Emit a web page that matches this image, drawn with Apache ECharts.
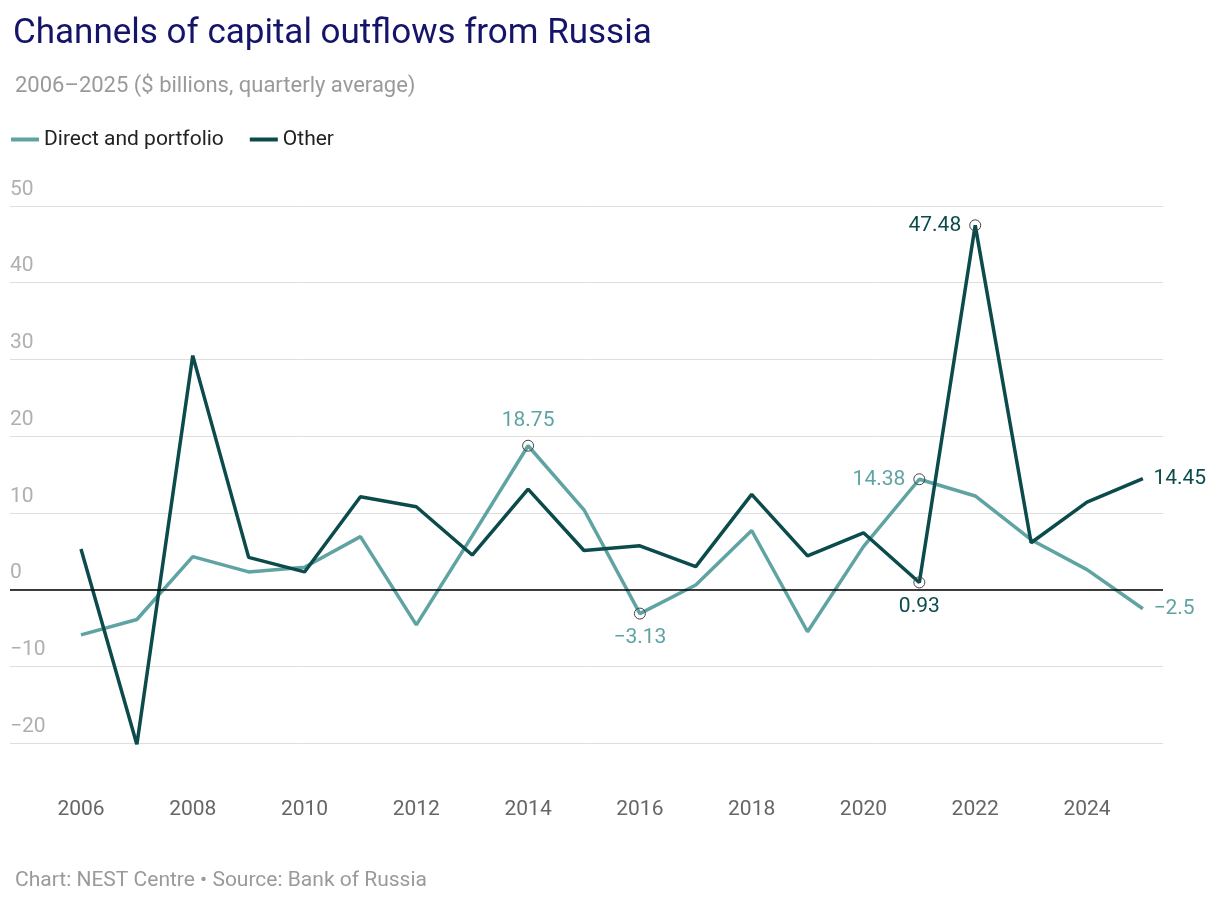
<!DOCTYPE html>
<html>
<head>
<meta charset="utf-8">
<script src="https://cdn.jsdelivr.net/npm/echarts@6/dist/echarts.min.js"></script>
<style>
  html, body { margin: 0; padding: 0; background: #fff; }
  #main { width: 1220px; height: 904px; }
</style>
</head>
<body>
<div id="main"></div>
<script>
const years = [2006, 2007, 2008, 2009, 2010, 2011, 2012, 2013, 2014, 2015, 2016, 2017, 2018, 2019, 2020, 2021, 2022, 2023, 2024, 2025];
const direct = [-5.9, -3.9, 4.3, 2.3, 2.9, 6.9, -4.6, 7.0, 18.75, 10.4, -3.13, 0.6, 7.7, -5.5, 5.6, 14.38, 12.2, 6.5, 2.6, -2.5];
const other = [5.3, -20.2, 30.5, 4.2, 2.3, 12.1, 10.8, 4.5, 13.1, 5.1, 5.7, 3.0, 12.4, 4.4, 7.4, 0.93, 47.48, 6.1, 11.4, 14.45];
const xTicks = [2006, 2008, 2010, 2012, 2014, 2016, 2018, 2020, 2022, 2024];

const LIGHT = '#5fa3a3';
const DARK = '#0b4b4b';
const FONT = 'Roboto, "DejaVu Sans", sans-serif';
const minus = v => String(v).replace('-', '\u2212');

// which points get a circle + label, and where the label sits
const directMarks = { 8: 'top', 10: 'bottom', 15: 'left', 19: 'right' };
const otherMarks = { 1: 'right', 16: 'left', 15: 'bottom', 19: 'right' };

function buildData(vals, marks, color) {
  return vals.map((v, i) => {
    const pos = marks[i];
    if (!pos) return { value: [years[i], v], symbolSize: 0 };
    const last = i === vals.length - 1;
    return {
      value: [years[i], v],
      symbol: 'circle',
      symbolSize: last ? 1 : 11,
      itemStyle: last
        ? { color: 'rgba(0,0,0,0)', borderWidth: 0 }
        : { color: 'rgba(255,255,255,0)', borderColor: '#444', borderWidth: 1 },
      label: {
        show: true, position: pos, distance: last ? 10 : 8,
        formatter: minus(v), color: color, fontSize: 21, fontFamily: FONT
      }
    };
  });
}

const myChart = echarts.init(document.getElementById('main'));
myChart.setOption({
  backgroundColor: '#fff',
  animation: false,
  title: [
    { text: 'Channels of capital outflows from Russia', left: 8, top: 12,
      textStyle: { color: '#14146b', fontSize: 35, fontWeight: 'normal', fontFamily: FONT } },
    { text: '2006\u20132025 ($ billions, quarterly average)', left: 10, top: 70,
      textStyle: { color: '#9a9a9a', fontSize: 22, fontWeight: 'normal', fontFamily: FONT } },
    { text: 'Chart: NEST Centre \u2022 Source: Bank of Russia', left: 10, top: 865,
      textStyle: { color: '#9a9a9a', fontSize: 21, fontWeight: 'normal', fontFamily: FONT } }
  ],
  legend: {
    left: 6, top: 124, itemWidth: 28, itemHeight: 4, itemGap: 26,
    icon: 'rect',
    textStyle: { color: '#222', fontSize: 21, fontFamily: FONT },
    data: ['Direct and portfolio', 'Other']
  },
  grid: { left: 10, right: 57, top: 206, bottom: 161, containLabel: false },
  xAxis: {
    type: 'value', min: 2004.73, max: 2025.36,
    splitLine: { show: false },
    axisLine: { show: false }, axisTick: { show: false },
    axisLabel: {
      customValues: xTicks, margin: 56,
      color: '#666', fontSize: 21, fontFamily: FONT,
      formatter: v => String(Math.round(v))
    }
  },
  yAxis: {
    type: 'value', min: -20, max: 50, interval: 10,
    axisLine: { show: false }, axisTick: { show: false },
    splitLine: { lineStyle: { color: '#dedede', width: 1 } },
    axisLabel: {
      inside: true, verticalAlign: 'bottom', margin: 0, padding: [0, 0, 6, 0],
      color: '#b0b0b0', fontSize: 21, fontFamily: FONT,
      formatter: v => minus(v)
    }
  },
  series: [
    {
      name: 'Direct and portfolio', type: 'line', showSymbol: true, symbol: 'circle',
      color: LIGHT, lineStyle: { width: 3.5, color: LIGHT },
      labelLayout: { hideOverlap: false },
      data: buildData(direct, directMarks, LIGHT),
      markLine: {
        silent: true, symbol: 'none', label: { show: false },
        lineStyle: { color: '#000', width: 1.5, type: 'solid' },
        data: [{ yAxis: 0 }]
      },
      z: 3
    },
    {
      name: 'Other', type: 'line', showSymbol: true, symbol: 'circle',
      color: DARK, lineStyle: { width: 3.5, color: DARK },
      labelLayout: { hideOverlap: false },
      data: buildData(other, otherMarks, DARK),
      z: 4
    }
  ]
});
</script>
</body>
</html>
